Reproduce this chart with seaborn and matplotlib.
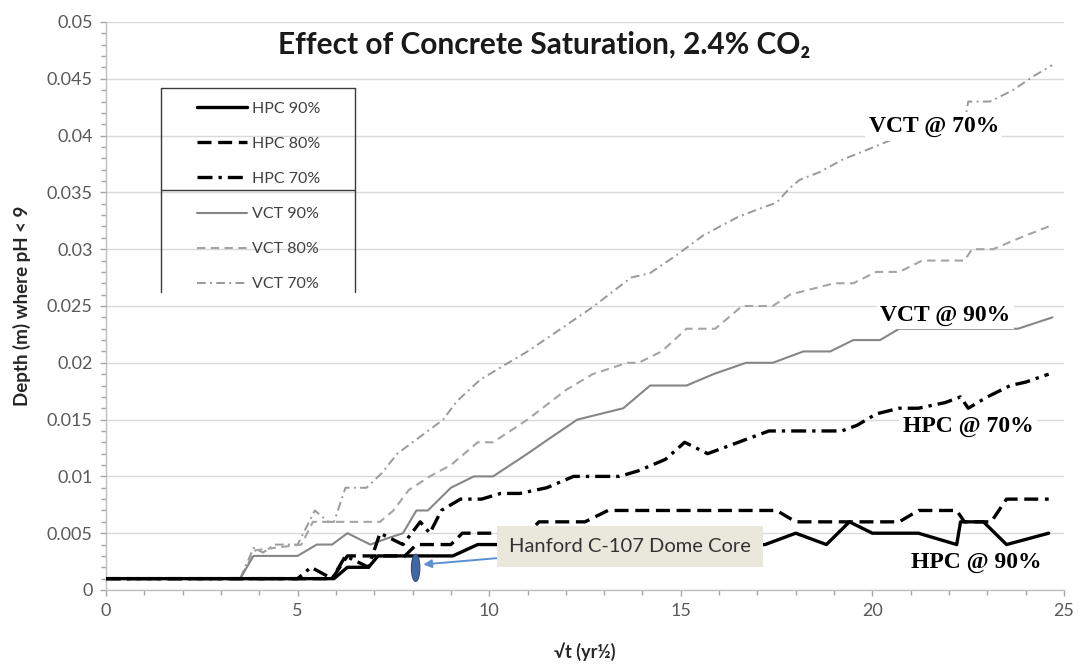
import numpy as np
import pandas as pd
import matplotlib
matplotlib.use("Agg")
import matplotlib.pyplot as plt
import seaborn as sns
from matplotlib.patches import Ellipse
from matplotlib.ticker import MultipleLocator, FuncFormatter

# ---------------- data ----------------
hpc90_x = [0, 5.95, 6.3, 6.85, 7.1, 9.05, 9.7, 17.2, 18.0, 18.8, 19.4, 20.0, 21.2, 22.2, 22.3, 22.9, 23.5, 24.6]
hpc90_y = [0.001, 0.001, 0.002, 0.002, 0.003, 0.003, 0.004, 0.004, 0.005, 0.004, 0.006, 0.005, 0.005, 0.004, 0.006, 0.006, 0.004, 0.005]

hpc80_x = [0, 5.9, 6.3, 7.8, 8.1, 9.0, 9.3, 11.0, 11.3, 12.5, 13.1, 17.5, 18.0, 20.7, 21.2, 22.2, 22.4, 23.1, 23.5, 24.6]
hpc80_y = [0.001, 0.001, 0.003, 0.003, 0.004, 0.004, 0.005, 0.005, 0.006, 0.006, 0.007, 0.007, 0.006, 0.006, 0.007, 0.007, 0.006, 0.006, 0.008, 0.008]

hpc70_x = [0, 5.0, 5.35, 5.9, 6.25, 6.85, 7.15, 7.75, 8.2, 8.45, 8.75, 9.25, 9.8, 10.3, 10.8, 11.5, 12.2, 13.4, 13.9,
           14.6, 15.1, 15.7, 16.5, 17.3, 19.2, 19.6, 20.1, 20.7, 21.2, 21.9, 22.3, 22.5, 23.0, 23.6, 24.0, 24.6]
hpc70_y = [0.001, 0.001, 0.002, 0.001, 0.003, 0.002, 0.005, 0.004, 0.006, 0.005, 0.007, 0.008, 0.008, 0.0085, 0.0085,
           0.009, 0.010, 0.010, 0.0105, 0.0115, 0.013, 0.012, 0.013, 0.014, 0.014, 0.0145, 0.0155, 0.016, 0.016,
           0.0165, 0.017, 0.016, 0.017, 0.018, 0.0183, 0.019]

vct90_x = [0, 3.5, 3.85, 5.0, 5.5, 5.9, 6.3, 6.9, 7.3, 7.75, 8.1, 8.4, 8.7, 9.0, 9.6, 10.1, 11.0, 11.6, 12.3, 12.9,
           13.5, 14.2, 15.15, 15.85, 16.7, 17.4, 18.2, 18.9, 19.5, 20.2, 20.7, 23.8, 24.7]
vct90_y = [0.001, 0.001, 0.003, 0.003, 0.004, 0.004, 0.005, 0.004, 0.0045, 0.005, 0.007, 0.007, 0.008, 0.009, 0.010,
           0.010, 0.012, 0.0134, 0.015, 0.0155, 0.016, 0.018, 0.018, 0.019, 0.020, 0.020, 0.021, 0.021, 0.022, 0.022,
           0.023, 0.023, 0.024]

vct80_x = [0, 3.5, 3.9, 5.1, 5.4, 7.15, 7.5, 7.9, 8.45, 9.0, 9.7, 10.1, 11.0, 12.0, 12.7, 13.6, 13.9, 14.5, 15.15,
           15.9, 16.6, 17.4, 17.85, 19.0, 19.5, 20.1, 20.7, 21.3, 22.4, 22.6, 23.15, 23.85, 24.6]
vct80_y = [0.001, 0.001, 0.0035, 0.004, 0.006, 0.006, 0.007, 0.0088, 0.010, 0.011, 0.013, 0.013, 0.015, 0.0176,
           0.019, 0.020, 0.020, 0.021, 0.023, 0.023, 0.025, 0.025, 0.026, 0.027, 0.027, 0.028, 0.028, 0.029, 0.029,
           0.030, 0.030, 0.031, 0.032]

vct70_x = [0, 3.5, 3.85, 4.1, 4.4, 5.0, 5.45, 5.8, 5.95, 6.25, 6.8, 7.2, 7.6, 8.0, 8.4, 8.8, 9.15, 9.76, 10.5, 11.0,
           11.7, 12.7, 13.7, 14.2, 14.9, 15.58, 16.02, 16.47, 17.0, 17.5, 17.85, 18.1, 18.63, 19.23, 19.75, 20.7,
           21.5, 22.45, 22.5, 23.07, 23.67, 24.19, 24.69]
vct70_y = [0.001, 0.001, 0.0037, 0.0033, 0.004, 0.004, 0.007, 0.006, 0.006, 0.009, 0.009, 0.0103, 0.012, 0.013,
           0.014, 0.015, 0.0166, 0.0185, 0.020, 0.021, 0.0226, 0.0249, 0.0275, 0.0279, 0.0295, 0.0312, 0.032, 0.0328,
           0.0335, 0.0341, 0.0354, 0.0361, 0.0368, 0.0379, 0.0386, 0.0399, 0.0405, 0.042, 0.043, 0.043, 0.044,
           0.0452, 0.0462]

series_names = ["HPC 90%", "HPC 80%", "HPC 70%", "VCT 90%", "VCT 80%", "VCT 70%"]

core_sqrt_t = [8.08]
core_depth = [0.00195]

callout_text = ["VCT @ 70%", "VCT @ 90%", "HPC @ 70%", "HPC @ 90%"]
callout_x = [21.6, 21.9, 22.5, 22.7]
callout_y = [0.0408, 0.0242, 0.01435, 0.00246]

title_text = "Effect of Concrete Saturation, 2.4% CO\u2082"
xlabel_text = "\u221at (yr\u00bd)"
ylabel_text = "Depth (m) where pH < 9"
core_label = "Hanford C-107 Dome Core"

# ---------------- styling ----------------
sns.set_theme(style="ticks")
plt.rcParams["font.family"] = ["Lato", "DejaVu Sans"]

styles = {
    "HPC 90%": dict(color="black", lw=2.4, linestyle="-"),
    "HPC 80%": dict(color="black", lw=2.4, linestyle=(0, (4.2, 2.0))),
    "HPC 70%": dict(color="black", lw=2.4, linestyle=(0, (4.5, 1.8, 1.0, 1.8))),
    "VCT 90%": dict(color="#868686", lw=1.5, linestyle="-"),
    "VCT 80%": dict(color="#a4a4a4", lw=1.5, linestyle=(0, (4.0, 2.6))),
    "VCT 70%": dict(color="#999999", lw=1.4, linestyle=(0, (4.5, 2.2, 1.0, 2.2))),
}

data = {
    "HPC 90%": (hpc90_x, hpc90_y),
    "HPC 80%": (hpc80_x, hpc80_y),
    "HPC 70%": (hpc70_x, hpc70_y),
    "VCT 90%": (vct90_x, vct90_y),
    "VCT 80%": (vct80_x, vct80_y),
    "VCT 70%": (vct70_x, vct70_y),
}

fig = plt.figure(figsize=(10.84, 6.67), dpi=100)
ax = fig.add_axes([106 / 1084, 77 / 667, 958 / 1084, 568 / 667])

handles = {}
draw_order = ["VCT 70%", "VCT 80%", "VCT 90%", "HPC 70%", "HPC 80%", "HPC 90%"]
for name in draw_order:
    xs, ys = data[name]
    df = pd.DataFrame({"x": xs, "y": ys})
    n_before = len(ax.lines)
    sns.lineplot(data=df, x="x", y="y", ax=ax, estimator=None, sort=False,
                 label=name, zorder=3, **styles[name])
    handles[name] = ax.lines[n_before]

ax.set_xlim(0, 25)
ax.set_ylim(0, 0.05)

# axes appearance
for s in ["top", "right"]:
    ax.spines[s].set_visible(False)
for s in ["left", "bottom"]:
    ax.spines[s].set_color("#bfbfbf")
    ax.spines[s].set_linewidth(1.0)

ax.yaxis.set_major_locator(MultipleLocator(0.005))
ax.yaxis.set_minor_locator(MultipleLocator(0.001))
ax.xaxis.set_major_locator(MultipleLocator(5))
ax.xaxis.set_minor_locator(MultipleLocator(1))
ax.yaxis.set_major_formatter(FuncFormatter(lambda v, _: "%g" % round(v, 6)))
ax.xaxis.set_major_formatter(FuncFormatter(lambda v, _: "%g" % v))
ax.tick_params(axis="both", which="both", direction="out", color="#a6a6a6",
               labelcolor="#595959", labelsize=13, width=1)
ax.tick_params(axis="both", which="major", length=4.5)
ax.tick_params(axis="both", which="minor", length=3.5)
ax.tick_params(axis="y", which="major", pad=5)
ax.tick_params(axis="x", which="major", pad=5)

ax.yaxis.grid(True, which="major", color="#d9d9d9", lw=1.0, zorder=0)
ax.set_axisbelow(True)

ax.set_xlabel(xlabel_text, fontsize=13, fontweight="bold", color="#262626")
ax.set_ylabel(ylabel_text, fontsize=13.5, fontweight="bold", color="#262626")
ax.xaxis.set_label_coords(0.5, -0.093)
ax.yaxis.set_label_coords(-0.078, 0.5)

# title inside plot
ax.text(0.457, 0.9595, title_text, transform=ax.transAxes, ha="center", va="center",
        fontsize=21.5, fontweight="bold", color="#1a1a1a")

# legend
leg_order = series_names
leg = ax.legend([handles[n] for n in leg_order], leg_order, loc="upper left",
                bbox_to_anchor=(0.095, 0.8597), frameon=False, fontsize=11.5,
                handlelength=3.1, handletextpad=0.35, labelspacing=1.31,
                borderpad=0, borderaxespad=0)
for t in leg.get_texts():
    t.set_color("#404040")

# legend frame drawn as lines (open at bottom, with separator)
lx0, lx1, ly_top, ly_sep, ly_bot = 0.0574, 0.26, 0.8838, 0.704, 0.5246
frame_kw = dict(transform=ax.transAxes, color="#3a3a3a", lw=1.0, clip_on=False, zorder=4)
ax.plot([lx0, lx1], [ly_top, ly_top], **frame_kw)
ax.plot([lx0, lx1], [ly_sep, ly_sep], **frame_kw)
ax.plot([lx0, lx0], [ly_bot, ly_top], **frame_kw)
ax.plot([lx1, lx1], [ly_bot, ly_top], **frame_kw)

# callout labels
for txt, cx, cy in zip(callout_text, callout_x, callout_y):
    ax.text(cx, cy, txt, ha="center", va="center", fontsize=17, fontweight="bold",
            family=["Liberation Serif", "DejaVu Serif"], color="black", zorder=6,
            bbox=dict(boxstyle="square,pad=0.15", fc="white", ec="none"))

# Hanford core sample marker and label
ell = Ellipse((core_sqrt_t[0], core_depth[0]), width=0.22, height=0.0024,
              facecolor="#3f67a3", edgecolor="#2f4f80", lw=0.8, zorder=7)
ax.add_patch(ell)
ax.annotate(core_label, xy=(core_sqrt_t[0] + 0.2, core_depth[0] + 0.0003),
            xytext=(13.67, 0.0038), ha="center", va="center", fontsize=14.5,
            color="#333333", zorder=8,
            bbox=dict(boxstyle="square,pad=0.6", fc="#eae7dc", ec="none"),
            arrowprops=dict(arrowstyle="-|>", color="#5b8fd0", lw=1.4, shrinkA=0, shrinkB=0,
                            mutation_scale=12))

fig.savefig("out.png", dpi=100)
